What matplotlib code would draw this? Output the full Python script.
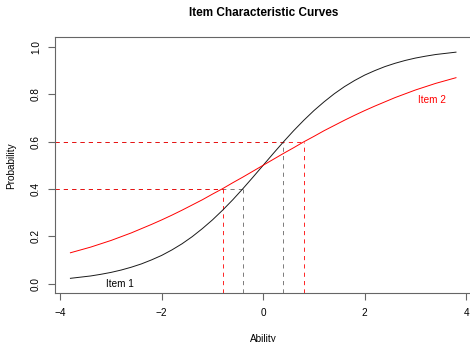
import matplotlib
matplotlib.use("Agg")
from matplotlib import pyplot as plt

plt.rcParams["font.family"] = ["Liberation Sans", "DejaVu Sans"]

# Ability grid and curve values
ability = [-3.8, -3.6, -3.4, -3.2, -3.0, -2.8, -2.6, -2.4, -2.2, -2.0,
           -1.8, -1.6, -1.4, -1.2, -1.0, -0.8, -0.6, -0.4, -0.2, 0.0,
           0.2, 0.4, 0.6, 0.8, 1.0, 1.2, 1.4, 1.6, 1.8, 2.0,
           2.2, 2.4, 2.6, 2.8, 3.0, 3.2, 3.4, 3.6, 3.8]
item1 = [0.022, 0.027, 0.032, 0.039, 0.047, 0.057, 0.069, 0.083, 0.100, 0.119,
         0.142, 0.168, 0.198, 0.232, 0.269, 0.310, 0.354, 0.401, 0.450, 0.500,
         0.550, 0.599, 0.646, 0.690, 0.731, 0.768, 0.802, 0.832, 0.858, 0.881,
         0.900, 0.917, 0.931, 0.943, 0.953, 0.961, 0.968, 0.973, 0.978]
item2 = [0.130, 0.142, 0.154, 0.168, 0.182, 0.198, 0.214, 0.232, 0.250, 0.269,
         0.289, 0.310, 0.332, 0.354, 0.378, 0.401, 0.426, 0.450, 0.475, 0.500,
         0.525, 0.550, 0.574, 0.599, 0.622, 0.646, 0.668, 0.690, 0.711, 0.731,
         0.750, 0.768, 0.786, 0.802, 0.818, 0.832, 0.846, 0.858, 0.870]

# Reference probabilities and the abilities where each item reaches them
ref_prob = [0.4, 0.6]
item1_ability = [-0.4, 0.4]
item2_ability = [-0.8, 0.8]

fig = plt.figure(figsize=(4.7, 3.42), dpi=100)
ax = fig.add_axes([0.117, 0.1433, 0.886, 0.7471])

xmin, xmax = -4.104, 4.104
ymin, ymax = -0.04, 1.04

dash = (0, (5, 5))
for p, a1, a2 in zip(ref_prob, item1_ability, item2_ability):
    ax.plot([xmin, a1], [p, p], color="0.4", lw=0.6, ls=dash)
    ax.plot([a1, a1], [ymin, p], color="0.4", lw=0.6, ls=dash)
    ax.plot([xmin, a2], [p, p], color="red", lw=0.6, ls=dash)
    ax.plot([a2, a2], [ymin, p], color="red", lw=0.6, ls=dash)

ax.plot(ability, item1, color="0.1", lw=0.7)
ax.plot(ability, item2, color="red", lw=0.7)

ax.text(-2.82, 0.0, "Item 1", fontsize=7.2, ha="center", va="center")
ax.text(3.32, 0.775, "Item 2", fontsize=7.2, ha="center", va="center", color="red")

ax.set_xlim(xmin, xmax)
ax.set_ylim(ymin, ymax)
ax.set_xticks([-4, -2, 0, 2, 4])
ax.set_yticks([0.0, 0.2, 0.4, 0.6, 0.8, 1.0])
ax.set_yticklabels(["0.0", "0.2", "0.4", "0.6", "0.8", "1.0"], rotation=90, va="center")

for spine in ax.spines.values():
    spine.set_color("0.4")
    spine.set_linewidth(0.8)
ax.tick_params(length=5, width=0.8, color="0.4", labelsize=7.2)
ax.tick_params(axis="x", pad=6)
ax.tick_params(axis="y", pad=5)

ax.set_xlabel("Ability", fontsize=7.2, labelpad=11)
ax.set_ylabel("Probability", fontsize=7.2, labelpad=11)
fig.text(0.56, 0.962, "Item Characteristic Curves", fontsize=8.5,
         fontweight="bold", ha="center", va="center")

fig.savefig("out.png", dpi=100)
